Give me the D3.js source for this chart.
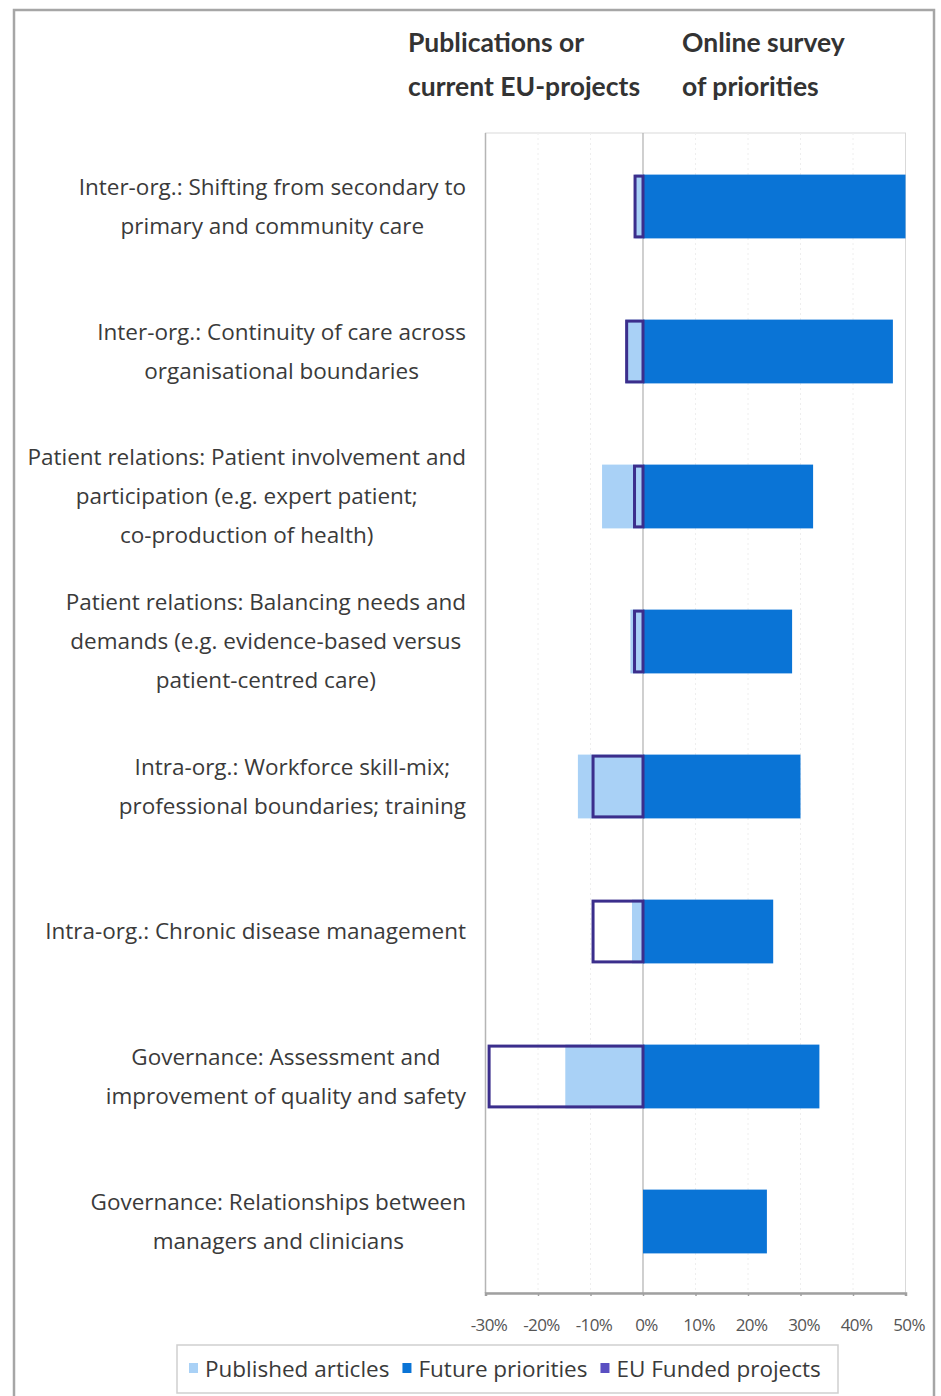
<!DOCTYPE html>
<html>
<head>
<meta charset="utf-8">
<script src="https://cdn.jsdelivr.net/npm/d3@7"></script>
<style>
  html, body { margin: 0; padding: 0; background: #fff; }
  svg { display: block; }
</style>
</head>
<body>
<svg id="chart" width="941" height="1396" font-family="'Open Sans', Lato, sans-serif"></svg>
<script>
// ---- data ----
const categories = [
  ["Inter-org.: Shifting from secondary to", "primary and community care"],
  ["Inter-org.: Continuity of care across", "organisational boundaries"],
  ["Patient relations: Patient involvement and", "participation (e.g. expert patient;", "co-production of health)"],
  ["Patient relations: Balancing needs and", "demands (e.g. evidence-based versus", "patient-centred care)"],
  ["Intra-org.: Workforce  skill-mix;", "professional boundaries; training"],
  ["Intra-org.: Chronic disease management"],
  ["Governance: Assessment and", "improvement of quality and safety"],
  ["Governance: Relationships between", "managers and clinicians"]
];
const futurePriorities = [50, 47.6, 32.4, 28.4, 30.0, 24.8, 33.6, 23.6];
const publishedArticles = [-1.5, -3.3, -7.8, -2.4, -12.4, -2.1, -14.8, 0];
const euFundedProjects = [-1.8, -3.4, -1.9, -1.9, -9.8, -9.8, -29.6, 0];
const tickValues = [-30, -20, -10, 0, 10, 20, 30, 40, 50];
const tickLabels = ["-30%", "-20%", "-10%", "0%", "10%", "20%", "30%", "40%", "50%"];
const headerLeft = ["Publications or", "current EU-projects"];
const headerRight = ["Online survey", "of priorities"];
const legendItems = ["Published articles", "Future priorities", "EU Funded projects"];

// ---- styles ----
const colPublished = "#a9d1f6";
const colFuture = "#0a74d6";
const colEU = "#3b2e8c";
const colEULegend = "#5a4fc2";
const textCol = "#3a3a3a";

const svg = d3.select("#chart");

// outer frame
svg.append("rect").attr("x", 14).attr("y", 10).attr("width", 920).attr("height", 1400)
  .attr("fill", "none").attr("stroke", "#a6a6a6").attr("stroke-width", 2.5);

const idx = d3.range(categories.length);
const x = d3.scaleLinear().domain([-30, 50]).range([485.5, 905.5]);
const y = d3.scaleBand().domain(idx).range([134, 1294]).paddingInner(0.56).paddingOuter(0.28);

const plotTop = 133, plotBottom = 1293;

// plot border (light)
svg.append("rect").attr("x", x(-30)).attr("y", plotTop).attr("width", x(50) - x(-30)).attr("height", plotBottom - plotTop)
  .attr("fill", "none").attr("stroke", "#d9d9d9").attr("stroke-width", 1);

// faint gridlines
svg.append("g").selectAll("line").data(tickValues.filter(v => v !== 0 && v !== -30 && v !== 50)).join("line")
  .attr("x1", d => x(d)).attr("x2", d => x(d)).attr("y1", plotTop).attr("y2", plotBottom)
  .attr("stroke", "#eeeeee").attr("stroke-width", 1).attr("stroke-dasharray", "2,3");

// left axis line
svg.append("line").attr("x1", x(-30)).attr("x2", x(-30)).attr("y1", plotTop).attr("y2", plotBottom)
  .attr("stroke", "#b5b5b5").attr("stroke-width", 1.5);

// zero line
svg.append("line").attr("x1", x(0)).attr("x2", x(0)).attr("y1", plotTop).attr("y2", plotBottom)
  .attr("stroke", "#b0b0b0").attr("stroke-width", 1.2);

// published articles (light blue)
svg.append("g").selectAll("rect").data(idx).join("rect")
  .attr("x", i => x(Math.min(0, publishedArticles[i])))
  .attr("width", i => Math.abs(x(publishedArticles[i]) - x(0)))
  .attr("y", i => y(i)).attr("height", y.bandwidth())
  .attr("fill", colPublished);

// future priorities
svg.append("g").selectAll("rect").data(idx).join("rect")
  .attr("x", x(0))
  .attr("width", i => x(futurePriorities[i]) - x(0))
  .attr("y", i => y(i)).attr("height", y.bandwidth())
  .attr("fill", colFuture);

// EU funded projects (outlined)
svg.append("g").selectAll("rect").data(idx.filter(i => euFundedProjects[i] !== 0)).join("rect")
  .attr("x", i => x(euFundedProjects[i]) + 1.5)
  .attr("width", i => x(0) - x(euFundedProjects[i]) - 1.5)
  .attr("y", i => y(i) + 1.5).attr("height", y.bandwidth() - 3)
  .attr("fill", "none").attr("stroke", colEU).attr("stroke-width", 3);

// x axis
const xAxis = d3.axisBottom(x).tickValues(tickValues).tickFormat((d, i) => tickLabels[i]).tickSize(3).tickPadding(23);
const gx = svg.append("g").attr("transform", `translate(0,${plotBottom})`).call(xAxis);
gx.attr("font-family", null).attr("font-size", null);
gx.select(".domain").attr("stroke", "#a0a0a0").attr("stroke-width", 2.5);
gx.selectAll(".tick line").attr("stroke", "#a0a0a0").attr("stroke-width", 1.5);
gx.selectAll(".tick text").attr("font-size", 17).attr("fill", "#555").attr("dx", 3).attr("letter-spacing", -0.6);

// category labels: lines centred within a block right-aligned to x=466
const labelRight = 466;
const lineH = 39;
const lblG = svg.append("g");
idx.forEach(i => {
  const lines = categories[i];
  const g = lblG.append("g");
  const texts = lines.map((l, k) => g.append("text")
    .attr("font-size", 22.5).attr("text-anchor", "middle").attr("fill", textCol)
    .attr("y", y(i) + y.bandwidth() / 2 + (k - (lines.length - 1) / 2) * lineH)
    .attr("dy", "0.35em").text(l));
  const maxW = d3.max(texts, t => t.node().getComputedTextLength());
  texts.forEach(t => t.attr("x", labelRight - maxW / 2));
});

// headers
const hdr = (arr, x0) => arr.forEach((t, k) => svg.append("text").attr("x", x0).attr("y", 52 + k * 44)
  .attr("font-family", "Lato, sans-serif")
  .attr("font-size", 26.5).attr("font-weight", "bold").attr("fill", "#333").text(t));
hdr(headerLeft, 408);
hdr(headerRight, 682);

// legend
const lg = svg.append("g");
lg.append("rect").attr("x", 177).attr("y", 1345).attr("width", 661).attr("height", 48)
  .attr("fill", "#fff").attr("stroke", "#cfcfcf").attr("stroke-width", 1.5);
const legendColors = [colPublished, colFuture, colEULegend];
let lx = 189;
legendItems.forEach((name, k) => {
  lg.append("rect").attr("x", lx).attr("y", 1363).attr("width", 9).attr("height", 10).attr("fill", legendColors[k]);
  const t = lg.append("text").attr("x", lx + 16).attr("y", 1369).attr("dy", "0.35em")
    .attr("font-size", 22.5).attr("fill", textCol).text(name);
  lx += 16 + t.node().getComputedTextLength() + 13;
});
</script>
</body>
</html>
